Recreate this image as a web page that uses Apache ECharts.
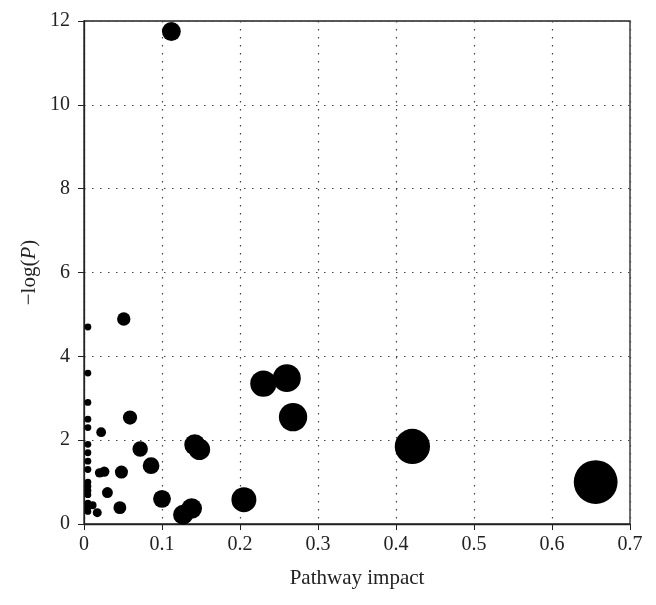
<!DOCTYPE html>
<html>
<head>
<meta charset="utf-8">
<script src="https://cdn.jsdelivr.net/npm/echarts@6/dist/echarts.min.js"></script>
<style>
html, body { margin: 0; padding: 0; background: #fff; }
#plot { width: 656px; height: 605px; }
</style>
</head>
<body>
<div id="plot"></div>
<script>
// pathway impact (x) and -log(P) (y)
const impact = [
	0.112, 0.051, 0.005, 0.005, 0.005, 0.005, 0.005, 0.022, 0.005, 0.005,
	0.005, 0.005, 0.005, 0.005, 0.005, 0.005, 0.005, 0.005, 0.005, 0.011,
	0.017, 0.020, 0.026, 0.030, 0.046, 0.048, 0.059, 0.072, 0.086, 0.100,
	0.127, 0.138, 0.142, 0.148, 0.205, 0.230, 0.260, 0.268, 0.421, 0.656
];
const negLogP = [
	11.75, 4.89, 4.70, 3.60, 2.90, 2.50, 2.30, 2.19, 1.90, 1.70,
	1.50, 1.30, 1.00, 0.90, 0.80, 0.70, 0.50, 0.40, 0.30, 0.45,
	0.27, 1.22, 1.25, 0.75, 0.39, 1.24, 2.54, 1.79, 1.39, 0.60,
	0.22, 0.37, 1.89, 1.78, 0.58, 3.35, 3.48, 2.55, 1.85, 1.00
];
const xTicks = [0, 0.1, 0.2, 0.3, 0.4, 0.5, 0.6, 0.7];
const yTicks = [0, 2, 4, 6, 8, 10, 12];

const font = 'Liberation Serif';

function plot() {
	const points = impact.map((x, i) => [x, negLogP[i]]);
	const option = {
		animation: false,
		grid: {
			left: 84,
			right: 26,
			top: 21,
			bottom: 81,
			show: true,
			borderColor: '#222',
			borderWidth: 1.3
		},
		xAxis: {
			type: 'value',
			min: xTicks[0],
			max: xTicks[xTicks.length - 1],
			interval: 0.1,
			name: 'Pathway impact',
			nameLocation: 'middle',
			nameGap: 44,
			nameMoveOverlap: false,
			nameTextStyle: { fontFamily: font, fontSize: 21, color: '#222' },
			axisLine: { lineStyle: { color: '#222', width: 1.3 } },
			axisTick: { show: true, length: 6, lineStyle: { color: '#222' } },
			axisLabel: {
				fontFamily: font, fontSize: 20, color: '#222', margin: 11,
				formatter: v => (Math.round(v * 10) / 10).toString()
			},
			splitLine: {
				show: true,
				lineStyle: { color: '#444', type: [1.5, 6.5], width: 1.2 }
			}
		},
		yAxis: {
			type: 'value',
			min: yTicks[0],
			max: yTicks[yTicks.length - 1],
			interval: 2,
			name: '{a|−log(}{b|P}{a|)}',
			nameLocation: 'middle',
			nameGap: 44,
			nameRotate: 90,
			nameMoveOverlap: false,
			nameTextStyle: {
				fontFamily: font, fontSize: 21, color: '#222',
				rich: {
					a: { fontFamily: font, fontSize: 21, color: '#222' },
					b: { fontFamily: font, fontSize: 21, color: '#222', fontStyle: 'italic' }
				}
			},
			axisLine: { show: true, lineStyle: { color: '#222', width: 1.3 } },
			axisTick: { show: true, length: 6, lineStyle: { color: '#222' } },
			axisLabel: { fontFamily: font, fontSize: 20, color: '#222', margin: 14 },
			splitLine: {
				show: true,
				lineStyle: { color: '#444', type: [1.5, 6.5], width: 1.2 }
			}
		},
		series: [
			{
				type: 'scatter',
				data: points,
				symbolSize: d => 2 * Math.sqrt(8 + 720 * d[0]),
				itemStyle: { color: '#000', opacity: 1 }
			}
		]
	};
	const plotChart = echarts.init(document.getElementById('plot'));
	plotChart.setOption(option);
}

window.addEventListener('load', () => {
	plot();
});
</script>
</body>
</html>
